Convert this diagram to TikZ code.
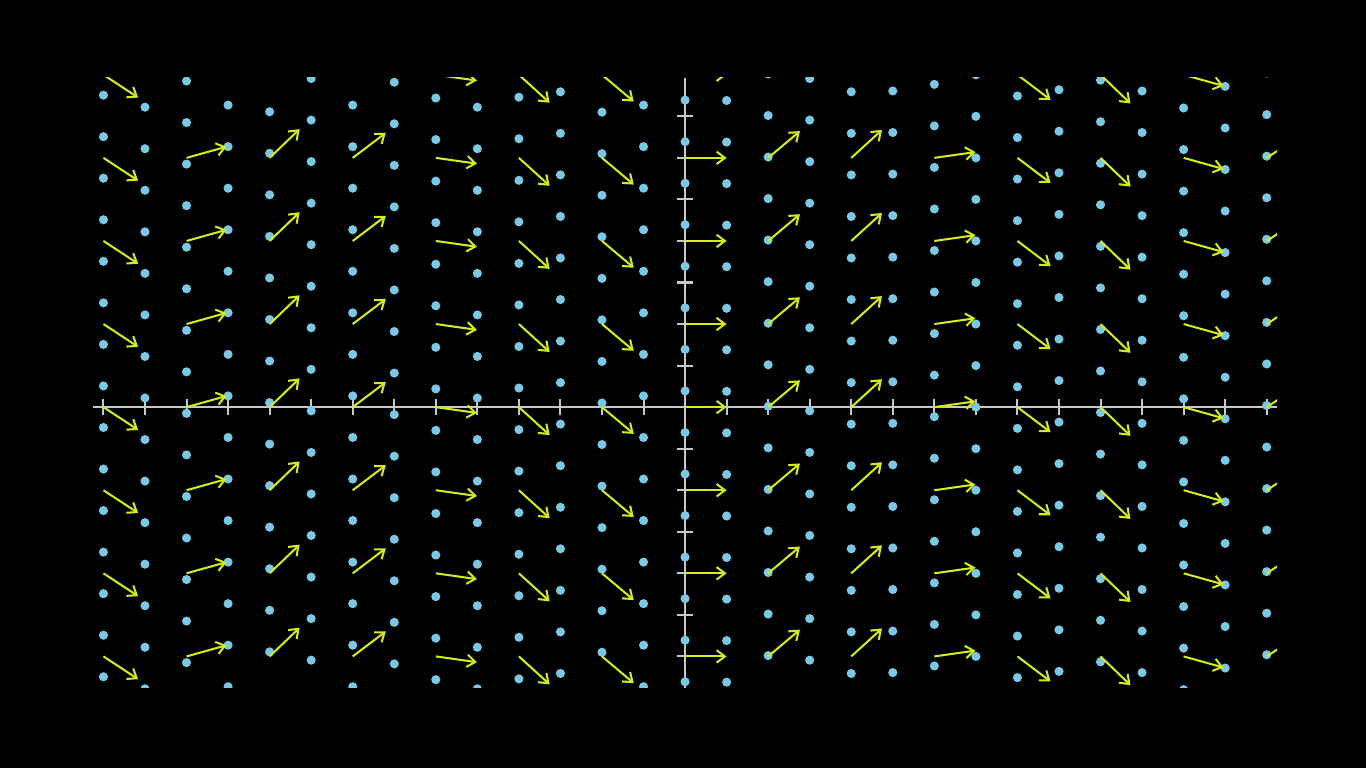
\documentclass[tikz,border=0pt]{standalone}
\usetikzlibrary{arrows.meta}
\definecolor{dotblue}{RGB}{122,200,228}
\definecolor{vecyellow}{RGB}{212,236,24}
\definecolor{axisgray}{RGB}{200,200,200}
\begin{document}
\begin{tikzpicture}[x=1cm,y=1cm]
\tikzset{ >={Straight Barb[length=2mm,width=3mm]},
  axis/.style={axisgray, line width=1.4pt},
  vec/.style={->, vecyellow, line width=1.4pt},
  pt/.style={fill=dotblue} }

\fill [black] (-16.49,-8.68) rectangle (16.39,9.80);
\useasboundingbox (-16.49,-8.68) rectangle (16.39,9.80);

\begin{scope}
\clip (-14.25,-6.76) rectangle (14.25,7.93);

% axes
\draw [axis] (-14.25,0) -- (14.25,0);
\draw [axis] (0,-6.76) -- (0,7.93);
\foreach \t in {-14,...,14} \draw [axis] (\t,-0.2) -- (\t,0.2);
\foreach \t in {-6,...,7} \draw [axis] (-0.2,\t) -- (0.2,\t);

% moving points, one column per tick
\foreach \x/\o in {-14/0.51,-13/0.22,-12/-0.15,-11/0.27,-10/0.11,-9/-0.09,-8/0.27,
  -7/-0.18,-6/0.44,-5/0.22,-4/0.46,-3/-0.41,-2/0.10,-1/0.27,0/0.39,1/0.38,2/0.02,
  3/-0.09,4/-0.41,5/-0.39,6/-0.23,7/0.0,8/-0.51,9/-0.36,10/-0.13,11/-0.39,12/0.20,
  13/-0.28,14/0.04} {
  \foreach \y in {-7,...,8} \fill [pt] (\x,{\y+\o}) circle (0.11);
}

% field (1, sin(x/2)), normalised
\foreach \x in {-14,-12,...,14} {
  \pgfmathsetmacro\ang{atan(sin(deg(\x/2)))}
  \foreach \y in {-6,-4,...,8} \draw [vec] (\x,\y) -- ++(\ang:1);
}
\end{scope}

\end{tikzpicture}
\end{document}
